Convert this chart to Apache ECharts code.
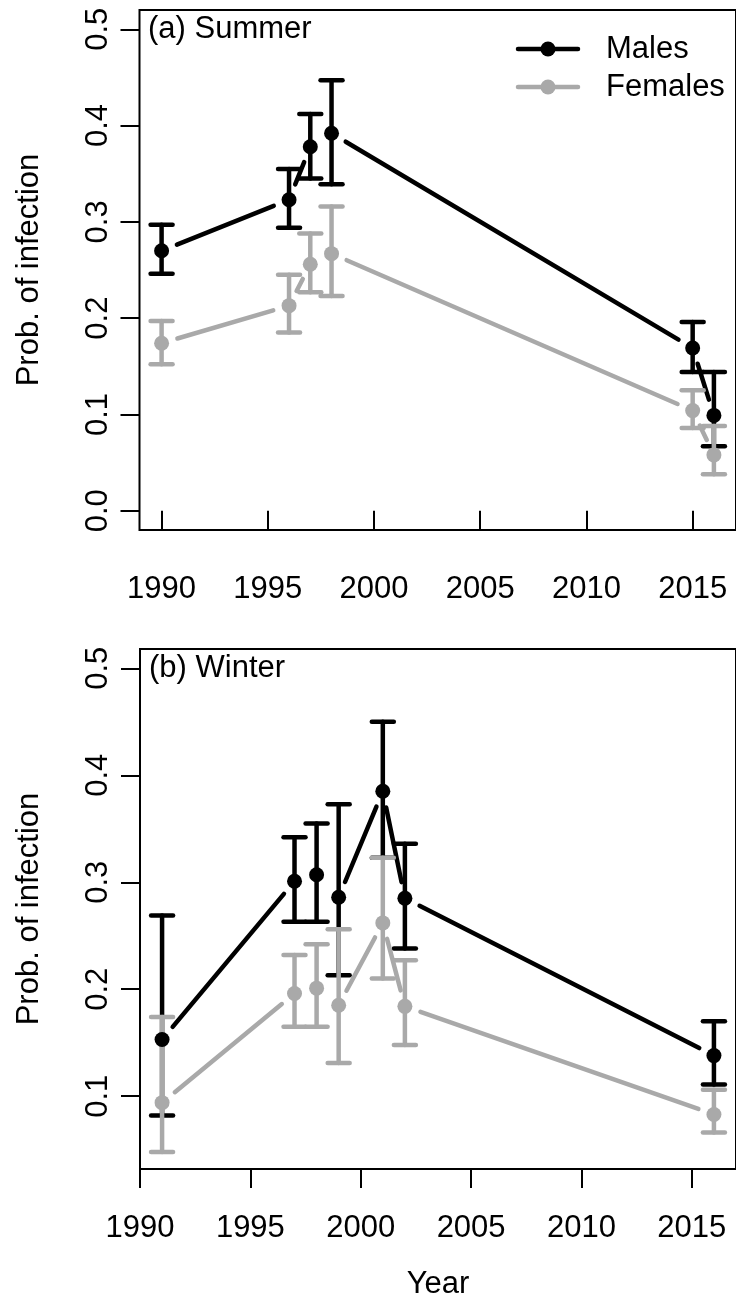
<!DOCTYPE html>
<html>
<head>
<meta charset="utf-8">
<script src="https://cdn.jsdelivr.net/npm/echarts@6/dist/echarts.min.js"></script>
<style>
  html, body { margin: 0; padding: 0; background: #fff; }
  #chart { width: 736px; height: 1301px; }
</style>
</head>
<body>
<div id="chart"></div>
<script>
// (a) summer
var summerYears = [1990, 1996, 1997, 1998, 2015, 2016];
var summerMales = [0.270, 0.323, 0.378, 0.392, 0.169, 0.099];
var summerMalesLow = [0.246, 0.294, 0.345, 0.339, 0.144, 0.067];
var summerMalesHigh = [0.297, 0.355, 0.412, 0.447, 0.196, 0.144];
var summerFemales = [0.174, 0.213, 0.256, 0.267, 0.104, 0.058];
var summerFemalesLow = [0.152, 0.185, 0.227, 0.223, 0.086, 0.038];
var summerFemalesHigh = [0.197, 0.245, 0.288, 0.316, 0.125, 0.088];

// (b) winter
var winterYears = [1991, 1997, 1998, 1999, 2001, 2002, 2016];
var winterMales = [0.153, 0.301, 0.307, 0.286, 0.385, 0.285, 0.138];
var winterMalesLow = [0.082, 0.263, 0.263, 0.213, 0.323, 0.238, 0.111];
var winterMalesHigh = [0.269, 0.342, 0.355, 0.373, 0.450, 0.336, 0.170];
var winterFemales = [0.094, 0.196, 0.201, 0.185, 0.262, 0.184, 0.083];
var winterFemalesLow = [0.048, 0.165, 0.165, 0.131, 0.210, 0.148, 0.066];
var winterFemalesHigh = [0.174, 0.232, 0.242, 0.256, 0.323, 0.227, 0.106];

var yearTicks = [1990, 1995, 2000, 2005, 2010, 2015];
var summerProbTicks = [0, 0.1, 0.2, 0.3, 0.4, 0.5];
var winterProbTicks = [0.1, 0.2, 0.3, 0.4, 0.5];

var MALE = '#000000';
var FEMALE = '#a9a9a9';
var FONT = '"Liberation Sans", Arial, sans-serif';
var FS = 31;
var LW = 4.5;
var GAP = 16.5; // R type="b" gap round the points

var chart = echarts.init(document.getElementById('chart'));

// lines between points, cut short near each point like R's type="b"
function segments(panel, years, vals, color) {
    var data = [];
    for (var i = 1; i < years.length; i++) {
        data.push([years[i - 1], vals[i - 1], years[i], vals[i]]);
    }
    return {
        type: 'custom',
        xAxisIndex: panel, yAxisIndex: panel,
        encode: { x: [0, 2], y: [1, 3] },
        data: data,
        silent: true,
        renderItem: function (params, api) {
            var a = api.coord([api.value(0), api.value(1)]);
            var b = api.coord([api.value(2), api.value(3)]);
            var dx = b[0] - a[0], dy = b[1] - a[1];
            var len = Math.sqrt(dx * dx + dy * dy);
            if (len <= 2 * GAP) return null;
            var ux = dx / len, uy = dy / len;
            return {
                type: 'line',
                shape: {
                    x1: a[0] + ux * GAP, y1: a[1] + uy * GAP,
                    x2: b[0] - ux * GAP, y2: b[1] - uy * GAP
                },
                style: { stroke: color, lineWidth: LW, lineCap: 'round' }
            };
        }
    };
}

function errorBars(panel, years, lo, hi, color) {
    return {
        type: 'custom',
        xAxisIndex: panel, yAxisIndex: panel,
        encode: { x: 0, y: [1, 2] },
        data: years.map(function (y, i) { return [y, lo[i], hi[i]]; }),
        silent: true,
        renderItem: function (params, api) {
            var top = api.coord([api.value(0), api.value(2)]);
            var bot = api.coord([api.value(0), api.value(1)]);
            var w = 11;
            var st = { stroke: color, lineWidth: LW, lineCap: 'round' };
            return {
                type: 'group',
                children: [
                    { type: 'line', shape: { x1: top[0], y1: top[1], x2: bot[0], y2: bot[1] }, style: st },
                    { type: 'line', shape: { x1: top[0] - w, y1: top[1], x2: top[0] + w, y2: top[1] }, style: st },
                    { type: 'line', shape: { x1: bot[0] - w, y1: bot[1], x2: bot[0] + w, y2: bot[1] }, style: st }
                ]
            };
        }
    };
}

function points(panel, name, years, vals, color) {
    return {
        name: name,
        type: 'scatter',
        xAxisIndex: panel, yAxisIndex: panel,
        symbol: 'circle',
        symbolSize: 15,
        itemStyle: { color: color, opacity: 1 },
        data: years.map(function (y, i) { return [y, vals[i]]; })
    };
}

function xAxis(panel, min, max, name) {
    return {
        type: 'value', gridIndex: panel, min: min, max: max,
        axisLine: { show: false },
        splitLine: { show: false },
        axisTick: { show: true, length: 19, customValues: yearTicks, lineStyle: { color: '#000', width: 2 } },
        axisLabel: {
            customValues: yearTicks, fontSize: FS, color: '#000', fontFamily: FONT, margin: 44,
            formatter: function (v) { return String(v); }
        },
        name: name, nameLocation: 'middle', nameGap: 100,
        nameTextStyle: { fontSize: FS, color: '#000', fontFamily: FONT }
    };
}

function yAxis(panel, min, max, ticks) {
    return {
        type: 'value', gridIndex: panel, min: min, max: max,
        axisLine: { show: false },
        splitLine: { show: false },
        axisTick: { show: true, length: 19, customValues: ticks, lineStyle: { color: '#000', width: 2 } },
        axisLabel: {
            customValues: ticks, rotate: 90, fontSize: FS, color: '#000', fontFamily: FONT, margin: 26,
            formatter: function (v) { return v.toFixed(1); }
        },
        name: 'Prob. of infection', nameLocation: 'middle', nameRotate: 90, nameGap: 95,
        nameTextStyle: { fontSize: FS, color: '#000', fontFamily: FONT }
    };
}

function legendKey(y, color, label) {
    return {
        type: 'group',
        children: [
            { type: 'line', shape: { x1: 518, y1: y, x2: 578, y2: y }, style: { stroke: color, lineWidth: LW, lineCap: 'round' } },
            { type: 'circle', shape: { cx: 548, cy: y, r: 7.5 }, style: { fill: color } },
            { type: 'text', x: 606, y: y, style: { text: label, font: FS + 'px ' + FONT, fill: '#000', verticalAlign: 'middle' } }
        ]
    };
}

var option = {
    backgroundColor: '#fff',
    animation: false,
    grid: [
        { left: 139.5, top: 10, width: 605, height: 520, show: true, borderColor: '#000', borderWidth: 2 },
        { left: 140, top: 649, width: 604, height: 520, show: true, borderColor: '#000', borderWidth: 2 }
    ],
    xAxis: [
        xAxis(0, 1988.96, 2017.04, ''),
        xAxis(1, 1990, 2017, 'Year')
    ],
    yAxis: [
        yAxis(0, -0.02, 0.52, summerProbTicks),
        yAxis(1, 0.032, 0.518, winterProbTicks)
    ],
    graphic: [
        { type: 'text', x: 148, y: 29.5, style: { text: '(a) Summer', font: FS + 'px ' + FONT, fill: '#000', verticalAlign: 'middle' } },
        { type: 'text', x: 149, y: 668.5, style: { text: '(b) Winter', font: FS + 'px ' + FONT, fill: '#000', verticalAlign: 'middle' } },
        legendKey(49, MALE, 'Males'),
        legendKey(87, FEMALE, 'Females')
    ],
    series: [
        segments(0, summerYears, summerMales, MALE),
        errorBars(0, summerYears, summerMalesLow, summerMalesHigh, MALE),
        points(0, 'Males', summerYears, summerMales, MALE),
        segments(0, summerYears, summerFemales, FEMALE),
        errorBars(0, summerYears, summerFemalesLow, summerFemalesHigh, FEMALE),
        points(0, 'Females', summerYears, summerFemales, FEMALE),

        segments(1, winterYears, winterMales, MALE),
        errorBars(1, winterYears, winterMalesLow, winterMalesHigh, MALE),
        points(1, 'Males', winterYears, winterMales, MALE),
        segments(1, winterYears, winterFemales, FEMALE),
        errorBars(1, winterYears, winterFemalesLow, winterFemalesHigh, FEMALE),
        points(1, 'Females', winterYears, winterFemales, FEMALE)
    ]
};

chart.setOption(option);
</script>
</body>
</html>
